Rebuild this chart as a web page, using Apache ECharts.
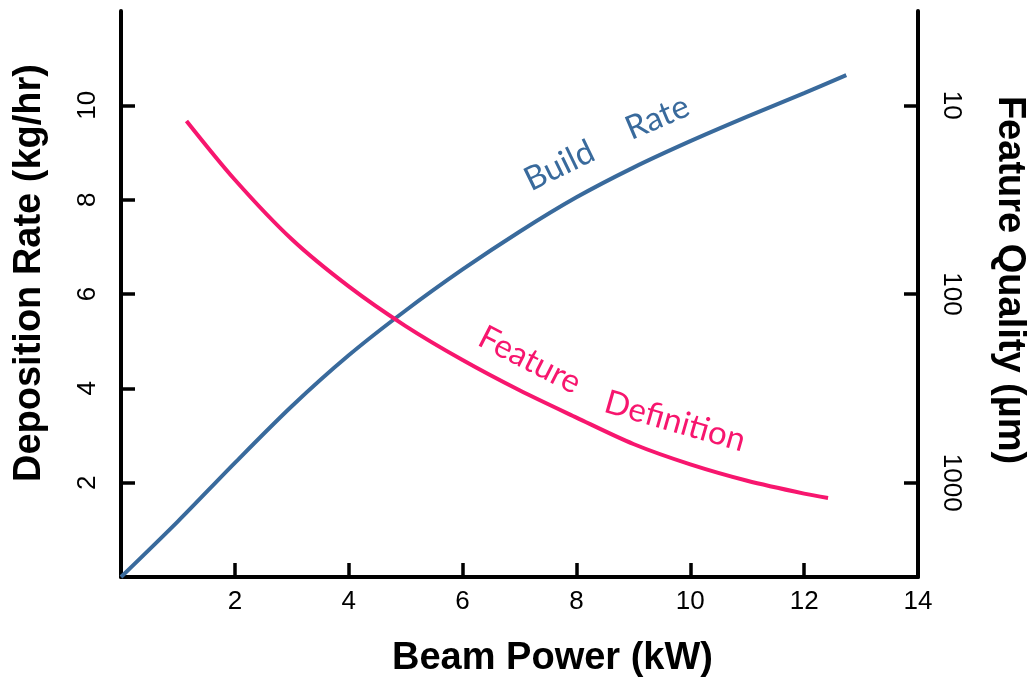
<!DOCTYPE html>
<html>
<head>
<meta charset="utf-8">
<script src="https://cdn.jsdelivr.net/npm/echarts@6/dist/echarts.min.js"></script>
<style>
html,body{margin:0;padding:0;background:#fff;}
#chart{width:1032px;height:679px;}
</style>
</head>
<body>
<div id="chart"></div>
<script>
// Build rate (kg/hr) vs beam power (kW)
var buildPower = [0, 1, 2, 3, 4, 5, 6, 7, 8, 9, 10, 11, 12, 12.74];
var buildRate  = [0, 1.18, 2.42, 3.62, 4.70, 5.65, 6.52, 7.32, 8.05, 8.68, 9.24, 9.76, 10.26, 10.64];

// Feature definition (µm, log axis) vs beam power (kW)
var featPower = [1.15, 2, 3, 4, 5, 6, 7, 8, 9, 10, 11, 12, 12.42];
var featSize  = [12.1, 24.8, 51.3, 91.2, 148, 224, 324, 452, 624, 800, 977, 1143, 1205];

var xTicks = [2, 4, 6, 8, 10, 12, 14];
var leftTicks = [2, 4, 6, 8, 10];
var rightTicks = [10, 100, 1000];

var xTitle = 'Beam Power (kW)';
var leftTitle = 'Deposition Rate (kg/hr)';
var rightTitle = 'Feature Quality (µm)';

var annotations = [
  {text: 'Build', x: 7.70, y: 8.72, rot: 26, color: '#396a9c'},
  {text: 'Rate', x: 9.42, y: 9.74, rot: 23, color: '#396a9c'},
  {text: 'Feature', x: 7.18, y: 4.60, rot: -27, color: '#f7166e'},
  {text: 'Definition', x: 9.73, y: 3.30, rot: -16, color: '#f7166e'}
];

var BLUE = '#396a9c', PINK = '#f7166e';
var chart = echarts.init(document.getElementById('chart'));
var axisLine = {show: true, lineStyle: {color: '#000', width: 4}};
var tick = {show: true, inside: true, length: 14, lineStyle: {color: '#000', width: 3.5}};
var labelFont = {color: '#000', fontSize: 26, fontFamily: 'Liberation Sans, Arial, sans-serif'};
function nameFont(pad) {
  return {color: '#000', fontSize: 38, fontWeight: 'bold', fontFamily: 'Liberation Sans, Arial, sans-serif', padding: pad};
}

chart.setOption({
  animation: false,
  grid: {left: 121, right: 114, top: 11, bottom: 102, containLabel: false, outerBoundsMode: 'none'},
  xAxis: {
    type: 'value', min: 0, max: 14, interval: 2,
    axisLine: axisLine,
    axisTick: Object.assign({customValues: xTicks}, tick),
    axisLabel: Object.assign({customValues: xTicks, margin: 12}, labelFont),
    splitLine: {show: false},
    name: xTitle, nameLocation: 'middle', nameGap: 63, nameTextStyle: nameFont([0, 0, 0, 66])
  },
  yAxis: [{
    type: 'value', min: 0, max: 12, interval: 2, position: 'left',
    axisLine: axisLine,
    axisTick: Object.assign({customValues: leftTicks}, tick),
    axisLabel: Object.assign({customValues: leftTicks, rotate: 90, margin: 20}, labelFont),
    splitLine: {show: false},
    name: leftTitle, nameLocation: 'middle', nameGap: 72, nameRotate: 90, nameTextStyle: nameFont([0, 0, 0, 42])
  }, {
    type: 'log', logBase: 10, min: Math.pow(10, 0.5), max: Math.pow(10, 3.5), inverse: true, position: 'right',
    axisLine: axisLine,
    axisTick: Object.assign({customValues: rightTicks}, tick),
    axisLabel: Object.assign({customValues: rightTicks, rotate: -90, margin: 20,
      formatter: function (v) { return String(Math.round(v)); }}, labelFont),
    splitLine: {show: false}, minorTick: {show: false},
    name: rightTitle, nameLocation: 'middle', nameGap: 72, nameRotate: -90, nameTextStyle: nameFont([0, 28, 0, 0])
  }],
  series: [{
    type: 'line', yAxisIndex: 0, smooth: 0.3, symbol: 'none',
    data: buildPower.map(function (p, i) { return [p, buildRate[i]]; }),
    lineStyle: {color: BLUE, width: 4}, itemStyle: {color: BLUE}
  }, {
    type: 'line', yAxisIndex: 1, smooth: 0.3, symbol: 'none',
    data: featPower.map(function (p, i) { return [p, featSize[i]]; }),
    lineStyle: {color: PINK, width: 4}, itemStyle: {color: PINK}
  }]
});

var g = annotations.map(function (a) {
  var pt = chart.convertToPixel({xAxisIndex: 0, yAxisIndex: 0}, [a.x, a.y]);
  return {
    type: 'text', x: pt[0], y: pt[1], rotation: a.rot * Math.PI / 180,
    style: {text: a.text, fill: a.color, fontSize: 33, fontFamily: 'Lato, Open Sans, sans-serif',
      align: 'center', verticalAlign: 'middle'}
  };
});
chart.setOption({graphic: g});
</script>
</body>
</html>
